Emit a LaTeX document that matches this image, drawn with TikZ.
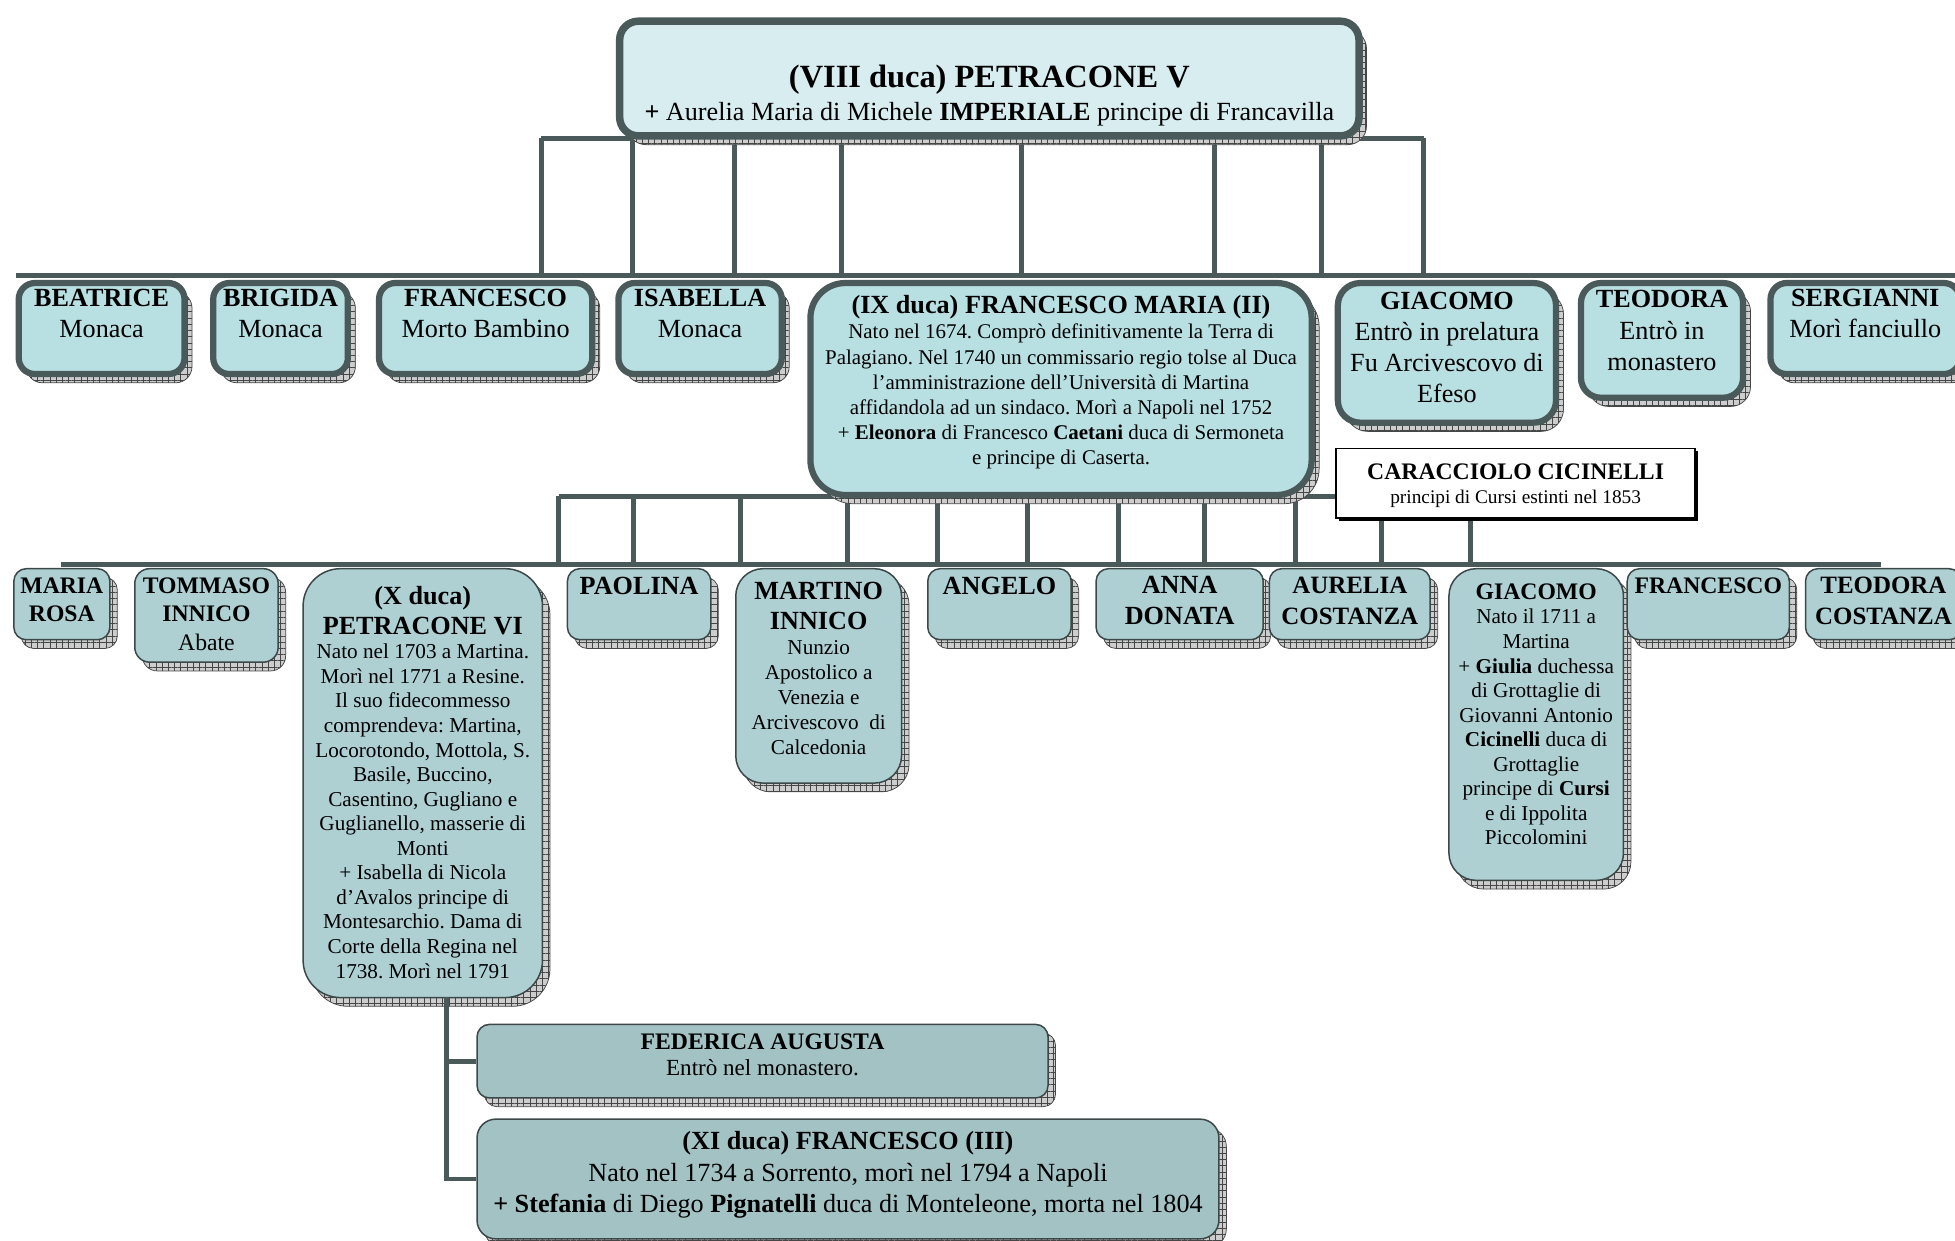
\documentclass[tikz,border=0pt]{standalone}
\usepackage{fontspec}
\setmainfont{Liberation Serif}
\usetikzlibrary{shadows,patterns.meta}
\frenchspacing

\definecolor{famline}{RGB}{74,89,89}
\definecolor{famedge}{RGB}{60,72,72}
\definecolor{famtop}{RGB}{216,237,240}
\definecolor{famsec}{RGB}{184,223,226}
\definecolor{famthird}{RGB}{174,208,211}
\definecolor{famlast}{RGB}{162,194,196}
\definecolor{famgrid}{RGB}{205,205,205}

% box contents: [top pad]{width}{height}{text}
\newcommand{\famcell}[4][7pt]{\parbox[c][#3][t]{#2}{\centering\vspace*{#1}#4\par}}

\begin{document}
\begin{tikzpicture}[
                x=1pt, y=-1pt,
                famshadow/.style={
                    general shadow={shadow xshift=6pt, shadow yshift=-7pt, fill=famgrid, draw=none},
                    general shadow={shadow xshift=6pt, shadow yshift=-7pt, draw=gray!55!black, line width=0.6pt,
                        pattern={Hatch[angle=0, distance=5pt, line width=0.5pt]}, pattern color=gray!55!black}},
                person/.style={anchor=north west, inner sep=0pt, famshadow},
                gen1/.style={person, draw=famline, line width=6pt, fill=famtop, rounded corners=15pt},
                gen2/.style={person, draw=famline, line width=5pt, fill=famsec, rounded corners=13pt,
                    font=\fontsize{21}{25}\selectfont},
                gen3/.style={person, draw=famedge, line width=1.2pt, fill=famthird, rounded corners=10pt,
                    font=\fontsize{19}{23}\selectfont},
                gen4/.style={person, draw=famedge, line width=1.2pt, fill=famlast, rounded corners=11pt,
                    font=\fontsize{21}{25.5}\selectfont},
                lineage/.style={anchor=north west, inner sep=0pt, draw=black, line width=1.2pt, fill=white,
                    general shadow={shadow xshift=2pt, shadow yshift=-2pt, fill=black}},
                link/.style={draw=famline, line width=4pt},
            ]
            \useasboundingbox (0,0) rectangle (1568,995);

            % connectors of the first generation
            \coordinate (topbarW) at (434,111);
            \coordinate (topbarE) at (1142,111);
            \coordinate (gen2barW) at (13,221);
            \coordinate (gen2barE) at (1568,221);
            \draw[link] (topbarW) -- (topbarE);
            \draw[link] (gen2barW) -- (gen2barE);
            \foreach \x in {434,507,589,675,819,974,1060,1142}
                \draw[link] (\x,0 |- topbarW) -- (\x,0 |- gen2barW);

            % connectors of the second generation
            \coordinate (gen3upW) at (448,398);
            \coordinate (gen3upE) at (1179,398);
            \coordinate (gen3barW) at (49,453);
            \coordinate (gen3barE) at (1509,453);
            \draw[link] (gen3upW) -- (gen3upE);
            \draw[link] (gen3barW) -- (gen3barE);
            \foreach \x in {448,508,594,680,752,824,897,966,1039,1108,1179}
                \draw[link] (\x,0 |- gen3upW) -- (\x,0 |- gen3barW);

            \node[gen1] (petr5) at (494,14) {\famcell[35pt]{593pt}{92pt}{%
                {\fontsize{26}{30}\selectfont\bfseries (VIII duca) PETRACONE V\par}
                {\fontsize{21}{26.4}\selectfont\textbf{+} Aurelia Maria di Michele \textbf{IMPERIALE} principe di Francavilla\par}}};

            \node[gen2] (beatrice) at (12.5,224.5) {\famcell[5pt]{133pt}{73pt}{\textbf{BEATRICE}\\Monaca}};
            \node[gen2] (brigida) at (168.5,224.5) {\famcell[5pt]{108pt}{73pt}{\textbf{BRIGIDA}\\Monaca}};
            \node[gen2] (francesco) at (301.5,224.5) {\famcell[5pt]{171pt}{73pt}{\textbf{FRANCESCO}\\Morto Bambino}};
            \node[gen2] (isabella) at (493.5,224.5) {\famcell[5pt]{131pt}{73pt}{\textbf{ISABELLA}\\Monaca}};
            \node[gen2, rounded corners=28pt] (fmaria) at (647.5,224.5) {\famcell[10pt]{402pt}{170pt}{%
                \textbf{(IX duca) FRANCESCO MARIA (II)}\par
                {\fontsize{16.8}{20.2}\selectfont Nato nel 1674. Comprò definitivamente la Terra di\\
                Palagiano. Nel 1740 un commissario regio tolse al Duca\\
                l’amministrazione dell’Università di Martina\\
                affidandola ad un sindaco. Morì a Napoli nel 1752\\
                + \textbf{Eleonora} di Francesco \textbf{Caetani} duca di Sermoneta\\
                e principe di Caserta.\par}}};
            \node[gen2, rounded corners=18pt] (giacomo) at (1070.5,224.5) {\famcell[7pt]{175pt}{112pt}{%
                \textbf{GIACOMO}\\Entrò in prelatura\\Fu Arcivescovo di\\Efeso}};
            \node[gen2, rounded corners=16pt] (teodora) at (1265.5,224.5) {\famcell[6pt]{130pt}{92pt}{%
                \textbf{TEODORA}\\Entrò in\\monastero}};
            \node[gen2] (sergianni) at (1417.5,224.5) {\famcell[5pt]{152pt}{73pt}{\textbf{SERGIANNI}\\Morì fanciullo}};

            \node[lineage] (cicinelli) at (1071,359) {\famcell[12pt]{288pt}{56pt}{%
                {\fontsize{19}{23}\selectfont\bfseries CARACCIOLO CICINELLI\par}
                {\fontsize{15.5}{20}\selectfont principi di Cursi estinti nel 1853\par}}};

            \node[gen3] (mrosa) at (10.5,455.5) {\famcell{77pt}{57pt}{\textbf{MARIA}\\\textbf{ROSA}}};
            \node[gen3, rounded corners=12pt] (tommaso) at (107.5,455.5) {\famcell{115pt}{75pt}{%
                \textbf{TOMMASO}\\\textbf{INNICO}\\Abate}};
            \node[gen3, rounded corners=30pt] (petr6) at (242.5,455.5) {\famcell[14pt]{192pt}{344pt}{%
                {\fontsize{21}{24}\selectfont\bfseries (X duca)\\PETRACONE VI\par}
                {\fontsize{17}{19.7}\selectfont Nato nel 1703 a Martina.\\
                Morì nel 1771 a Resine.\\
                Il suo fidecommesso\\
                comprendeva: Martina,\\
                Locorotondo, Mottola, S.\\
                Basile, Buccino,\\
                Casentino, Gugliano e\\
                Guglianello, masserie di\\
                Monti\\
                + Isabella di Nicola\\
                d’Avalos principe di\\
                Montesarchio. Dama di\\
                Corte della Regina nel\\
                1738. Morì nel 1791\par}}};
            \node[gen3, font=\fontsize{21}{25}\selectfont] (paolina) at (454.5,455.5) {\famcell{115pt}{57pt}{\textbf{PAOLINA}}};
            \node[gen3, rounded corners=22pt] (martino) at (589.5,455.5) {\famcell[11pt]{133pt}{172pt}{%
                {\fontsize{21}{24}\selectfont\bfseries MARTINO\\INNICO\par}
                {\fontsize{17}{20}\selectfont Nunzio\\Apostolico a\\Venezia e\\Arcivescovo~ di\\Calcedonia\par}}};
            \node[gen3, font=\fontsize{21}{25}\selectfont] (angelo) at (743.5,455.5) {\famcell{115pt}{57pt}{\textbf{ANGELO}}};
            \node[gen3, font=\fontsize{21}{25}\selectfont] (anna) at (878.5,455.5) {\famcell[6pt]{134pt}{57pt}{%
                \textbf{ANNA}\\\textbf{DONATA}}};
            \node[gen3, font=\fontsize{20}{25}\selectfont] (aurelia) at (1017.5,455.5) {\famcell[6.5pt]{129pt}{57pt}{%
                \textbf{AURELIA}\\\textbf{COSTANZA}}};
            \node[gen3, rounded corners=22pt] (giacomo3) at (1161.5,455.5) {\famcell[12pt]{140pt}{250pt}{%
                \textbf{GIACOMO}\par
                {\fontsize{17}{19.7}\selectfont Nato il 1711 a\\
                Martina\\
                + \textbf{Giulia} duchessa\\
                di Grottaglie di\\
                Giovanni Antonio\\
                \textbf{Cicinelli} duca di\\
                Grottaglie\\
                principe di \textbf{Cursi}\\
                e di Ippolita\\
                Piccolomini\par}}};
            \node[gen3] (francesco3) at (1304.5,455.5) {\famcell{130pt}{57pt}{\textbf{FRANCESCO}}};
            \node[gen3, font=\fontsize{20}{25}\selectfont] (tcostanza) at (1447.5,455.5) {\famcell[6.5pt]{125pt}{57pt}{%
                \textbf{TEODORA}\\\textbf{COSTANZA}}};

            \node[gen4, rounded corners=10pt] (federica) at (382,821) {\famcell[7.4pt]{458pt}{59pt}{%
                {\fontsize{19}{23}\selectfont\bfseries FEDERICA AUGUSTA\par}
                {\fontsize{18.5}{21.2}\selectfont Entrò nel monastero.\par}}};
            \node[gen4, rounded corners=15pt] (franc11) at (382,897) {\famcell[9.7pt]{595pt}{96pt}{%
                \textbf{(XI duca) FRANCESCO (III)}\\
                Nato nel 1734 a Sorrento, morì nel 1794 a Napoli\\
                \textbf{+ Stefania} di Diego \textbf{Pignatelli} duca di Monteleone, morta nel 1804}};

            % third generation
            \coordinate (stem) at (358,800);
            \draw[link] (stem) |- (federica.west);
            \draw[link] (stem) |- (franc11.west);
\end{tikzpicture}
\end{document}
